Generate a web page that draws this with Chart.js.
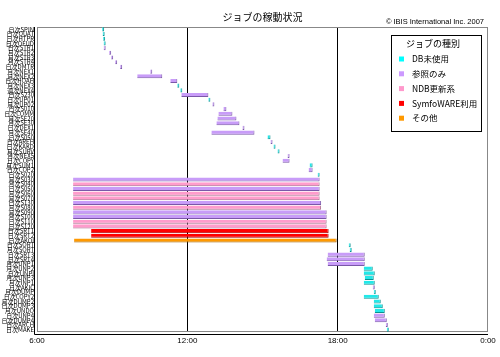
<!DOCTYPE html>
<html><head><meta charset="utf-8">
<script src="https://cdn.jsdelivr.net/npm/chart.js@4/dist/chart.umd.min.js"></script>
<style>html,body{margin:0;padding:0;background:#fff;}canvas{display:block;}</style>
</head><body>
<canvas id="c" width="500" height="357"></canvas>
<script>
const chartTitle = "ジョブの稼動状況";
const copyrightText = "© IBIS International Inc. 2007";
const legendTitle = "ジョブの種別";
const typeNames = ["DB未使用", "参照のみ", "NDB更新系", "SymfoWARE利用", "その他"];
const typeColors = ["#22E8E8", "#C89CF8", "#FF9CCC", "#FF0000", "#FF9900"];
const typeEdges = ["#0A9090", "#7A58A8", "#A86A8A", "#A00000", "#A06000"];
const legendSwatch = ["#00FFFF", "#CC99FF", "#FF99CC", "#FF0000", "#FF9900"];

const jobNames = [
"日次SPIN","日次QUAT","日次HTPR","日次OFUD","日次STR1","月次STR2","月次STR3","月次STR4","日次DMTR","月次NEX1",
"月次NEX2","日次HOAH","月次NEX3","週次NEX4","日次S230","日次UP01","月次UP02","日次S010","日次COMM","月次SE20",
"月次SE30","日次DEX1","月次SE40","日次S050","日次AREH","日次KAKD","月次SURV","月次NEX5","日次COPY","月次SUM1",
"日次COP2","日次S020","月次S030","月次S040","日次S050","月次S060","月次S070","日次S130","月次S080","月次S090",
"月次S100","日次S110","日次S120","日次SRT1","日次SRT2","日次AKOI","日次SORT","月次SORT","日次SRT3","日次SRT4",
"月次UNP1","月次UNP2","日次UNPI","月次UNP3","月次INP1","日次AKIC","月次DUMP","日次COPY2","月次DUMP2","日次DUMP3",
"月次UNDO","日次UNP4","日次DUMP4","日次ARCH","日次MAKE"
];
const startTimes = [
8.60,8.62,8.64,8.66,8.66,8.88,8.96,9.12,9.32,10.52,
10.00,11.32,11.60,11.72,11.76,12.84,13.00,13.44,13.24,13.20,
13.16,14.20,12.96,15.20,15.32,15.44,15.60,16.00,15.80,16.88,
16.84,17.20,7.44,7.44,7.44,7.44,7.44,7.44,7.44,7.44,
7.44,7.44,7.44,8.16,8.16,7.48,18.44,18.48,17.60,17.56,
17.60,19.04,19.04,19.08,19.04,19.40,19.44,19.04,19.44,19.44,
19.48,19.44,19.48,19.92,19.96
];
const endTimes = [
8.68,8.70,8.72,8.74,8.74,8.96,9.04,9.20,9.40,10.60,
11.00,11.60,11.68,11.80,12.84,12.92,13.08,13.56,13.80,13.96,
14.08,14.28,14.68,15.32,15.40,15.52,15.68,16.08,16.08,17.00,
17.00,17.28,17.28,17.28,17.28,17.28,17.28,17.34,17.34,17.56,
17.56,17.56,17.56,17.64,17.64,17.96,18.52,18.56,19.08,19.08,
19.08,19.40,19.48,19.44,19.48,19.48,19.52,19.64,19.72,19.80,
19.88,19.88,19.96,20.00,20.04
];
const jobTypes = [
0,0,0,0,1,1,1,1,1,1,
1,1,0,0,1,0,1,1,1,1,
1,1,1,0,1,0,0,1,1,0,
1,0,1,2,1,2,2,1,2,1,
1,2,2,3,3,4,0,0,1,1,
1,0,0,0,0,1,0,0,0,0,
0,1,1,1,0
];
const xTickValues = [6, 12, 18, 24];

const datasets = typeNames.map((name, t) => ({
  label: name,
  data: jobNames.map((_, i) => jobTypes[i] === t ? [startTimes[i], endTimes[i]] : null),
  backgroundColor: typeColors[t],
  borderColor: typeEdges[t],
  borderWidth: {top: 0, left: 0, right: 1, bottom: 1},
  borderSkipped: false,
  grouped: false,
  barPercentage: 0.88,
  categoryPercentage: 1.0
}));

const CJK = "'Noto Sans CJK JP', 'Noto Sans', sans-serif";

const decorPlugin = {
  id: 'decor',
  beforeDatasetsDraw(chart) {
    const {ctx, chartArea: a} = chart;
    ctx.save();
    ctx.strokeStyle = '#888888';
    ctx.lineWidth = 1;
    ctx.strokeRect(Math.round(a.left) + 0.5, Math.round(a.top) + 0.5, Math.round(a.right - a.left) - 1, Math.round(a.bottom - a.top) - 1);
    ctx.strokeStyle = '#000000';
    ctx.beginPath();
    ctx.moveTo(Math.round(a.left) - 2.5, Math.round(a.top));
    ctx.lineTo(Math.round(a.left) - 2.5, Math.round(a.bottom) + 2.5);
    ctx.lineTo(Math.round(a.right), Math.round(a.bottom) + 2.5);
    ctx.stroke();
    ctx.restore();
  },
  afterDraw(chart) {
    const {ctx, chartArea: a} = chart;
    ctx.save();
    ctx.fillStyle = '#000';
    ctx.textBaseline = 'middle';
    ctx.font = "10px " + CJK;
    ctx.textAlign = 'center';
    ctx.fillText(chartTitle, (a.left + a.right) / 2, 17);
    ctx.font = "7.5px 'Liberation Sans', sans-serif";
    ctx.textAlign = 'right';
    ctx.fillText(copyrightText, 484, 22);
    // legend box
    const bx = 391.5, by = 35.5, bw = 90, bh = 96;
    ctx.fillStyle = '#fff';
    ctx.fillRect(bx, by, bw, bh);
    ctx.strokeStyle = '#000';
    ctx.lineWidth = 1;
    ctx.strokeRect(bx, by, bw, bh);
    ctx.fillStyle = '#000';
    ctx.textAlign = 'left';
    ctx.font = "9px " + CJK;
    ctx.fillText(legendTitle, 406, 44);
    ctx.font = "8.5px " + CJK;
    typeNames.forEach((n, i) => {
      const y = 59 + i * 14.8;
      ctx.fillStyle = legendSwatch[i];
      ctx.fillRect(399, y - 2.5, 5, 5);
      ctx.fillStyle = '#000';
      ctx.fillText(n, 412, y);
    });
    ctx.restore();
  }
};

new Chart(document.getElementById('c'), {
  type: 'bar',
  data: {labels: jobNames, datasets},
  options: {
    indexAxis: 'y',
    responsive: false,
    animation: false,
    devicePixelRatio: 1,
    layout: {padding: {top: 27, right: 12, left: 0, bottom: 0}},
    plugins: {legend: {display: false}, title: {display: false}, tooltip: {enabled: false}},
    scales: {
      x: {
        type: 'linear', min: 6, max: 24,
        afterBuildTicks(s) { s.ticks = xTickValues.map(v => ({value: v})); },
        ticks: {
          color: '#000', font: {size: 8, family: "'Liberation Sans', sans-serif"}, padding: 4,
          maxRotation: 0,
          callback: v => (v % 24) + ":00"
        },
        grid: {
          drawTicks: false,
          color: c => (c.tick && (c.tick.value === 12 || c.tick.value === 18)) ? '#000' : 'rgba(0,0,0,0)',
          lineWidth: 1
        },
        border: {display: false},
        afterFit(s) { s.height = 25; }
      },
      y: {
        ticks: {
          autoSkip: false, color: '#000', padding: 3,
          font: {size: 6, family: CJK}
        },
        grid: {display: false, drawTicks: false},
        border: {display: false},
        afterFit(s) { s.width = 37; }
      }
    }
  },
  plugins: [decorPlugin]
});
</script>
</body></html>
